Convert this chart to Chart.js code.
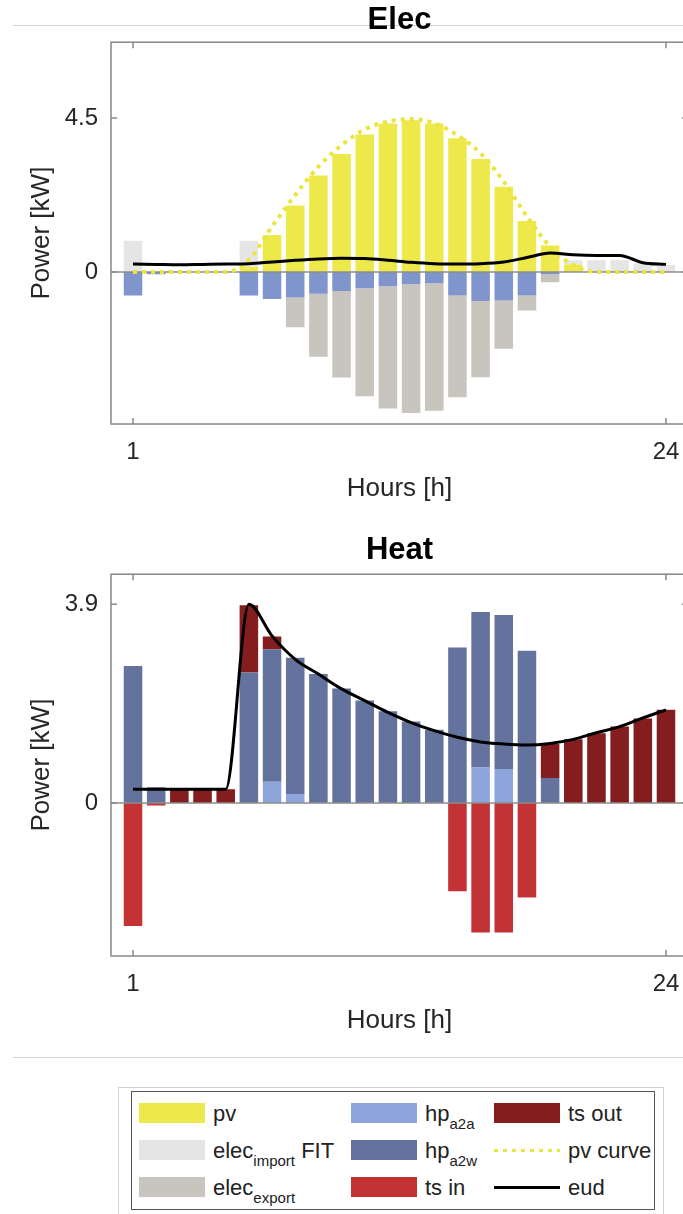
<!DOCTYPE html>
<html>
<head>
<meta charset="utf-8">
<script src="https://cdn.jsdelivr.net/npm/chart.js@4.4.0/dist/chart.umd.min.js"></script>
<style>
  body { margin: 0; width: 683px; height: 1214px; overflow: hidden; background: #fff; position: relative;
         font-family: "Liberation Sans", Arial, sans-serif; color: #222; }
  canvas { position: absolute; left: 0; }
  .sep { position: absolute; left: 13px; width: 670px; height: 0; border-top: 1.5px solid #d2d2d2; }
  #legendOuter { position: absolute; left: 118px; top: 1087px; width: 546px; height: 130px; border: 1px solid #d0d0d0; box-sizing: border-box; }
  #legendInner { position: absolute; left: 131px; top: 1091px; width: 524px; height: 119px; border: 1.5px solid #555; box-sizing: border-box; }
  .sw { position: absolute; width: 66px; height: 20px; }
  .ln { position: absolute; width: 66px; height: 3px; }
  .lt { position: absolute; font-size: 22px; line-height: 26px; white-space: nowrap; }
  .lt sub { font-size: 15px; vertical-align: -8px; line-height: 0; }
</style>
</head>
<body>
<div class="sep" style="top:25px"></div>
<canvas id="elecChart" width="720" height="520" style="top:0"></canvas>
<canvas id="heatChart" width="720" height="522" style="top:530px"></canvas>
<div class="sep" style="top:1057px"></div>
<div id="legendOuter"></div>
<div id="legendInner"></div>
<div id="legend"></div>

<script>
// hours of the day
const hours = [1, 2, 3, 4, 5, 6, 7, 8, 9, 10, 11, 12, 13, 14, 15, 16, 17, 18, 19, 20, 21, 22, 23, 24];
const hourTicks = [1, 24];

// Elec (kW)
const pv         = [0, 0, 0, 0, 0, 0.15, 1.08, 1.94, 2.82, 3.45, 4.02, 4.34, 4.44, 4.34, 3.91, 3.30, 2.49, 1.49, 0.77, 0.22, 0, 0, 0, 0];
const elecImport = [0.91, 0, 0, 0, 0, 0.76, 0, 0, 0, 0, 0, 0, 0, 0, 0, 0, 0, 0, 0, 0.12, 0.34, 0.34, 0.25, 0.2];
const hpElec     = [-0.69, -0.07, 0, 0, 0, -0.69, -0.79, -0.75, -0.64, -0.56, -0.48, -0.42, -0.36, -0.33, -0.69, -0.85, -0.84, -0.69, -0.07, 0, 0, 0, 0, 0];
const elecExport = [0, 0, 0, 0, 0, 0, 0, -0.87, -1.84, -2.53, -3.16, -3.58, -3.77, -3.73, -2.98, -2.23, -1.41, -0.44, -0.23, 0, 0, 0, 0, 0];
const pvCurve    = [0, 0, 0, 0, 0, 0.35, 1.33, 2.25, 3.08, 3.71, 4.17, 4.40, 4.47, 4.35, 4.0, 3.47, 2.64, 1.62, 0.74, 0.2, 0, 0, 0, 0];
const eudElec    = [0.23, 0.22, 0.21, 0.22, 0.23, 0.24, 0.29, 0.34, 0.38, 0.40, 0.39, 0.34, 0.28, 0.24, 0.23, 0.24, 0.29, 0.42, 0.55, 0.50, 0.48, 0.48, 0.27, 0.22];
const elecTicks  = [0, 4.5];

// Heat (kW)
const hpA2A   = [0, 0, 0, 0, 0, 0, 0.42, 0.18, 0, 0, 0, 0, 0, 0, 0, 0.70, 0.67, 0, 0, 0, 0, 0, 0, 0];
const hpA2W   = [2.69, 0.31, 0, 0, 0, 2.56, 2.60, 2.67, 2.53, 2.25, 2.01, 1.80, 1.60, 1.44, 3.05, 3.05, 3.02, 2.99, 0.49, 0, 0, 0, 0, 0];
const tsOut   = [0, 0, 0.27, 0.27, 0.27, 1.32, 0.25, 0, 0, 0, 0, 0, 0, 0, 0, 0, 0, 0, 0.67, 1.25, 1.37, 1.50, 1.66, 1.83];
const tsIn    = [-2.41, -0.05, 0, 0, 0, 0, 0, 0, 0, 0, 0, 0, 0, 0, -1.73, -2.54, -2.54, -1.85, 0, 0, 0, 0, 0, 0];
const eudHeat = [0.27, 0.27, 0.27, 0.27, 0.27, 3.90, 3.28, 2.82, 2.53, 2.24, 2.01, 1.78, 1.58, 1.42, 1.29, 1.20, 1.16, 1.14, 1.17, 1.25, 1.38, 1.50, 1.67, 1.83];
const heatTicks = [0, 3.9];

const colors = {
    pv: '#eee94b', imp: '#e5e5e5', exp: '#c7c5be', hpElec: '#7f95cc',
    a2a: '#8da5da', a2w: '#64739d', tsIn: '#c33235', tsOut: '#831d1e', eud: '#000'
};

Chart.defaults.font.family = '"Liberation Sans", Arial, sans-serif';
Chart.defaults.color = '#262626';

const xy = arr => hours.map((h, i) => ({ x: h, y: arr[i] }));

function barSet(label, arr, color) {
    return { type: 'bar', label: label, data: xy(arr), backgroundColor: color, borderWidth: 0,
             barPercentage: 0.8, categoryPercentage: 1.0, order: 3 };
}

// frame, inner ticks and zero baseline like the original figure
const framePlugin = {
    id: 'frame',
    beforeDatasetsDraw(chart) { chart.$zeroDone = false; },
    beforeDatasetDraw(chart, args) {
        if (args.meta.type !== 'line' || chart.$zeroDone) return;
        chart.$zeroDone = true;
        const { ctx, chartArea: a, scales } = chart;
        const y0 = scales.y.getPixelForValue(0);
        ctx.save();
        ctx.strokeStyle = '#8c8c8c';
        ctx.lineWidth = 1.5;
        ctx.beginPath();
        ctx.moveTo(a.left, y0);
        ctx.lineTo(a.right, y0);
        ctx.stroke();
        ctx.restore();
    },
    afterDraw(chart) {
        const { ctx, chartArea: a, scales } = chart;
        ctx.save();
        ctx.strokeStyle = '#888';
        ctx.lineWidth = 1.5;
        ctx.strokeRect(a.left, a.top, a.right - a.left, a.bottom - a.top);
        ctx.beginPath();
        scales.x.ticks.forEach(t => {
            const px = scales.x.getPixelForValue(t.value);
            ctx.moveTo(px, a.top); ctx.lineTo(px, a.top + 6);
            ctx.moveTo(px, a.bottom); ctx.lineTo(px, a.bottom - 6);
        });
        scales.y.ticks.forEach(t => {
            const py = scales.y.getPixelForValue(t.value);
            ctx.moveTo(a.left, py); ctx.lineTo(a.left + 6, py);
            ctx.moveTo(a.right, py); ctx.lineTo(a.right - 6, py);
        });
        ctx.stroke();
        ctx.restore();
    }
};

function makeOptions(title, yMin, yMax, yTicks, titleBottom) {
    return {
        responsive: false,
        animation: false,
        layout: { padding: { left: 0, right: 32, top: 0, bottom: 0 } },
        plugins: {
            legend: { display: false },
            tooltip: { enabled: false },
            title: { display: true, text: title, color: '#000', fullSize: false,
                     font: { size: 31, weight: 'bold' }, padding: { top: 2, bottom: titleBottom } }
        },
        scales: {
            x: {
                type: 'linear', min: 0.05, max: 24.95, stacked: true, offset: false,
                grid: { display: false, drawTicks: false }, border: { display: false },
                afterBuildTicks: s => { s.ticks = hourTicks.map(v => ({ value: v })); },
                ticks: { font: { size: 24 }, padding: 14, maxRotation: 0, autoSkip: false },
                title: { display: true, text: 'Hours [h]', font: { size: 26 }, padding: { top: 0, bottom: 16 } },
                afterFit: s => { s.height = 96; }
            },
            y: {
                min: yMin, max: yMax, stacked: true,
                grid: { display: false, drawTicks: false }, border: { display: false },
                afterBuildTicks: s => { s.ticks = yTicks.map(v => ({ value: v })); },
                ticks: { font: { size: 24 }, padding: 13 },
                title: { display: true, text: 'Power [kW]', font: { size: 26 }, padding: { top: 26, bottom: 0 } },
                afterFit: s => { s.width = 111; }
            }
        }
    };
}

// Elec chart
new Chart(document.getElementById('elecChart'), {
    data: {
        datasets: [
            barSet('pv', pv, colors.pv),
            barSet('elec import FIT', elecImport, colors.imp),
            barSet('hp', hpElec, colors.hpElec),
            barSet('elec export', elecExport, colors.exp),
            { type: 'line', label: 'pv curve', data: xy(pvCurve), stack: 'pvc', order: 2,
              borderColor: '#e9e640', borderWidth: 4, borderDash: [4, 5], pointRadius: 0,
              cubicInterpolationMode: 'monotone', tension: 0.4 },
            { type: 'line', label: 'eud', data: xy(eudElec), stack: 'eud', order: 1,
              borderColor: colors.eud, borderWidth: 3, pointRadius: 0,
              cubicInterpolationMode: 'monotone', tension: 0.4 }
        ]
    },
    options: makeOptions('Elec', -4.45, 6.72, elecTicks, 3),
    plugins: [framePlugin]
});

// Heat chart
new Chart(document.getElementById('heatChart'), {
    data: {
        datasets: [
            barSet('hp a2a', hpA2A, colors.a2a),
            barSet('hp a2w', hpA2W, colors.a2w),
            barSet('ts out', tsOut, colors.tsOut),
            barSet('ts in', tsIn, colors.tsIn),
            { type: 'line', label: 'eud', data: xy(eudHeat), stack: 'eud', order: 1,
              borderColor: colors.eud, borderWidth: 3, pointRadius: 0,
              cubicInterpolationMode: 'monotone', tension: 0.4 }
        ]
    },
    options: makeOptions('Heat', -3.0, 4.49, heatTicks, 5),
    plugins: [framePlugin]
});

// legend (html so the subscripts stay real text)
const legendItems = [
    { col: 0, row: 0, kind: 'box', color: colors.pv, main: 'pv' },
    { col: 0, row: 1, kind: 'box', color: colors.imp, main: 'elec', sub: 'import', tail: ' FIT' },
    { col: 0, row: 2, kind: 'box', color: colors.exp, main: 'elec', sub: 'export' },
    { col: 1, row: 0, kind: 'box', color: colors.a2a, main: 'hp', sub: 'a2a' },
    { col: 1, row: 1, kind: 'box', color: colors.a2w, main: 'hp', sub: 'a2w' },
    { col: 1, row: 2, kind: 'box', color: colors.tsIn, main: 'ts in' },
    { col: 2, row: 0, kind: 'box', color: colors.tsOut, main: 'ts out' },
    { col: 2, row: 1, kind: 'dots', color: '#e9e640', main: 'pv curve' },
    { col: 2, row: 2, kind: 'line', color: colors.eud, main: 'eud' }
];
const colX = [139, 351, 494];
const rowY = [1113, 1150, 1187];
const legend = document.getElementById('legend');
legendItems.forEach(it => {
    const x = colX[it.col], yc = rowY[it.row];
    const sw = document.createElement('div');
    if (it.kind === 'box') {
        sw.className = 'sw';
        sw.style.top = (yc - 10) + 'px';
        sw.style.background = it.color;
    } else {
        sw.className = 'ln';
        sw.style.top = (yc - 1.5) + 'px';
        sw.style.background = it.kind === 'dots'
            ? 'repeating-linear-gradient(90deg, ' + it.color + ' 0 4px, transparent 4px 9px)'
            : it.color;
    }
    sw.style.left = x + 'px';
    legend.appendChild(sw);
    const t = document.createElement('span');
    t.className = 'lt';
    t.style.left = (x + 74) + 'px';
    t.style.top = (yc - 12) + 'px';
    t.textContent = it.main;
    if (it.sub) {
        const s = document.createElement('sub');
        s.textContent = it.sub;
        t.appendChild(s);
    }
    if (it.tail) t.appendChild(document.createTextNode(it.tail));
    legend.appendChild(t);
});
</script>
</body>
</html>
